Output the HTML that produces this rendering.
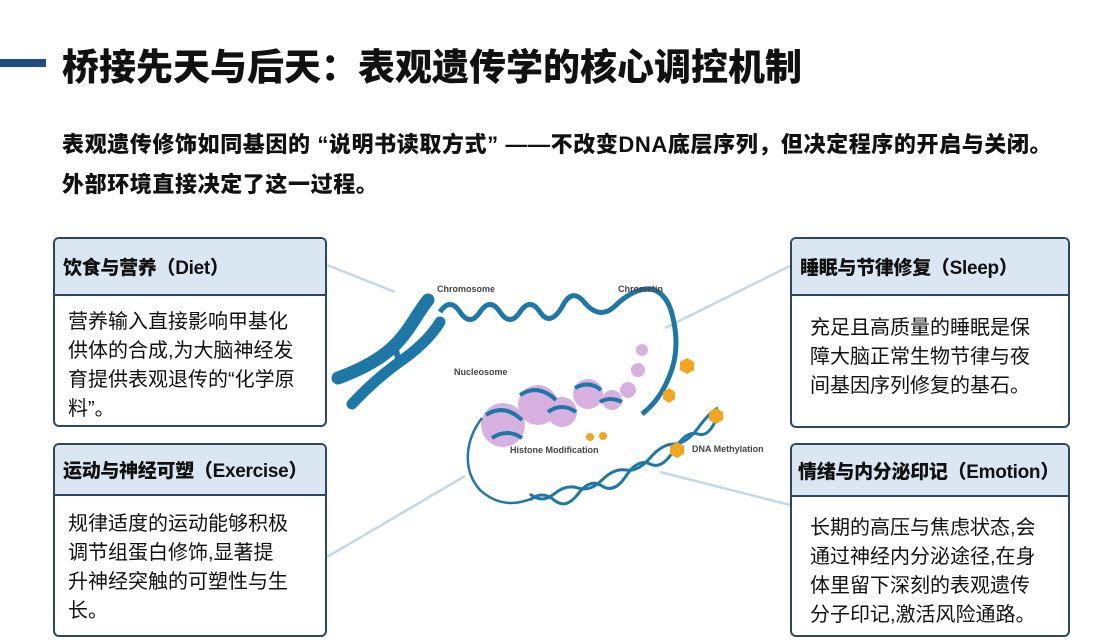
<!DOCTYPE html>
<html><head><meta charset="utf-8"><style>
body{margin:0;width:1111px;height:643px;background:#fff;position:relative;overflow:hidden;font-family:"Liberation Sans","Noto Sans CJK SC",sans-serif;color:#111}
.a{position:absolute}
.title{left:62px;top:37px;font-size:37px;font-weight:900;white-space:nowrap}
.sub{left:62px;font-size:22px;font-weight:900;white-space:nowrap;letter-spacing:0.6px}
.box{position:absolute;border:2.5px solid #2c4762;border-radius:6px;background:#fff;box-sizing:border-box;overflow:hidden}
.hd{background:#dbe6f3;border-bottom:2.5px solid #2c4762;font-size:19px;font-weight:900;padding-left:8px;box-sizing:border-box;white-space:nowrap;display:flex;align-items:center;letter-spacing:-0.3px}
.bd{font-size:20px;line-height:29px;padding:12px 0 0 13px}
</style></head><body>
<div class="a" style="left:0;top:59px;width:46px;height:8px;background:#1f4c85"></div>
<div class="a title">桥接先天与后天：表观遗传学的核心调控机制</div>
<div class="a sub" style="top:127px">表观遗传修饰如同基因的 “说明书读取方式” ——不改变DNA底层序列，但决定程序的开启与关闭。</div>
<div class="a sub" style="top:167px">外部环境直接决定了这一过程。</div>

<svg class="a" style="left:0;top:0" width="1111" height="643">
<g stroke="#c5d6e6" stroke-width="2.5">
<line x1="327" y1="265" x2="395" y2="292"/>
<line x1="790" y1="266" x2="665" y2="328"/>
<line x1="327" y1="557" x2="465" y2="476"/>
<line x1="790" y1="505" x2="660" y2="472"/>
</g>
<!-- chromosome -->
<g stroke="#1d78a8" stroke-linecap="round" fill="none">
<path d="M338 378 C360 370 380 360 395 345 C410 330 418 312 428 300" stroke-width="13"/>
<path d="M352 404 C370 385 385 372 405 358 C420 347 432 335 440 322" stroke-width="11"/>
<path d="M395 345 C398 360 400 370 405 358" stroke-width="6"/>
</g>
<!-- wavy chromatin -->
<path d="M440 312 q10 -15 20 0 t20 0 t20 0 t20 0 t20 0 t22 -5 q10 -20 22 -5 q15 18 30 5 q20 -20 38 -18 q15 5 20 25 q8 30 0 55 q-10 30 -30 45" fill="none" stroke="#1d78a8" stroke-width="5"/>
<!-- nucleosomes -->
<g fill="#d3a8dc" opacity="0.9">
<circle cx="503" cy="425" r="22"/><circle cx="538" cy="405" r="20"/>
<circle cx="562" cy="412" r="15"/><circle cx="588" cy="394" r="15"/>
<circle cx="612" cy="400" r="10"/><circle cx="628" cy="390" r="8"/>
<circle cx="638" cy="370" r="7"/><circle cx="642" cy="350" r="6"/>
</g>
<g stroke="#1d78a8" stroke-width="4" fill="none">
<path d="M486 415 q18 -12 36 5 M492 438 q15 -10 30 0 M520 395 q18 -12 36 5 M548 412 q14 -10 28 0 M575 388 q14 -8 26 2 M600 402 q10 -6 22 0"/>
</g>
<path d="M482 418 C465 440 462 470 480 490 C500 508 520 505 540 495" fill="none" stroke="#1d78a8" stroke-width="2.5"/>
<!-- double helix -->
<g fill="none" stroke="#1d78a8" stroke-width="3">
<path d="M530 500 q12 -10 24 0 t24 -6 t24 -8 t24 -10 t24 -12 t24 -14 t24 -16 t20 -20"/>
<path d="M530 494 q12 10 24 0 t24 -6 t24 -8 t24 -10 t24 -12 t24 -14 t24 -16 t20 -20"/>
</g>
<text x="437" y="292" font-size="9" font-weight="bold" fill="#444" font-family="Liberation Sans">Chromosome</text>
<text x="618" y="292" font-size="9" font-weight="bold" fill="#444" font-family="Liberation Sans">Chromatin</text>
<text x="454" y="375" font-size="9" font-weight="bold" fill="#444" font-family="Liberation Sans">Nucleosome</text>
<text x="510" y="453" font-size="9" font-weight="bold" fill="#444" font-family="Liberation Sans">Histone Modification</text>
<text x="692" y="452" font-size="9" font-weight="bold" fill="#444" font-family="Liberation Sans">DNA Methylation</text>
<g fill="#f3a520">
<circle cx="590" cy="437" r="4"/><circle cx="603" cy="436" r="4"/>
<polygon points="687,358 694,362 694,370 687,374 680,370 680,362"/>
<polygon points="669,388 675,392 675,399 669,403 663,399 663,392"/>
<polygon points="716,408 723,412 723,420 716,424 709,420 709,412"/>
<polygon points="677,442 684,446 684,454 677,458 670,454 670,446"/>
</g>
</svg>

<div class="box" style="left:53px;top:237px;width:274px;height:190px"><div class="hd" style="height:57px">饮食与营养（Diet）</div><div class="bd">营养输入直接影响甲基化<br>供体的合成,为大脑神经发<br>育提供表观退传的“化学原<br>料”。</div></div>
<div class="box" style="left:53px;top:443px;width:274px;height:194px"><div class="hd" style="height:51px">运动与神经可塑（Exercise）</div><div class="bd" style="padding-top:14px">规律适度的运动能够积极<br>调节组蛋白修饰,显著提<br>升神经突触的可塑性与生<br>长。</div></div>
<div class="box" style="left:790px;top:237px;width:280px;height:191px"><div class="hd" style="height:57px">睡眠与节律修复（Sleep）</div><div class="bd" style="padding:18px 0 0 18px">充足且高质量的睡眠是保<br>障大脑正常生物节律与夜<br>间基因序列修复的基石。</div></div>
<div class="box" style="left:790px;top:443px;width:280px;height:194px"><div class="hd" style="height:52px;padding-left:6px">情绪与内分泌印记（Emotion）</div><div class="bd" style="padding:17px 0 0 18px">长期的高压与焦虑状态,会<br>通过神经内分泌途径,在身<br>体里留下深刻的表观遗传<br>分子印记,激活风险通路。</div></div>
</body></html>
